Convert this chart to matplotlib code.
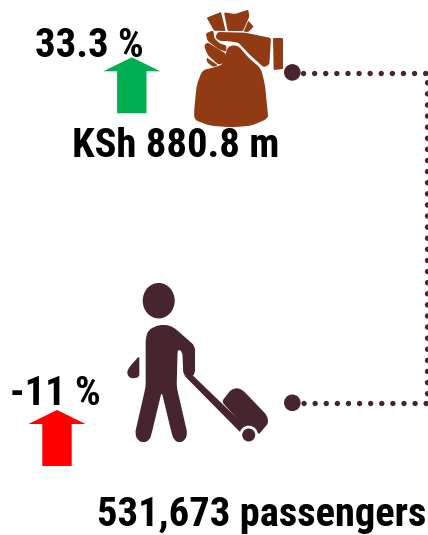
import numpy as np
import matplotlib.pyplot as plt
from matplotlib.patches import Polygon, Ellipse, Circle, PathPatch
from matplotlib.path import Path

# === Values shown on the graphic ===
change_labels = ["33.3 %", "-11 %"]
total_labels = ["KSh 880.8 m", "531,673 passengers"]
arrow_colors = ["#00B050", "#FF0000"]

BROWN = "#913B14"
DARK = "#46252F"

fig = plt.figure(figsize=(4.28, 5.35), dpi=100)
ax = fig.add_axes([0, 0, 1, 1])
ax.set_xlim(0, 428)
ax.set_ylim(535, 0)
ax.axis("off")


def blob(pts, ox, oy, color, r=1.5):
    # outlines were traced on 3x crops, corners get rounded by r pixels
    pts = np.array(pts, dtype=float) / 3 + [ox, oy]
    n = len(pts)
    verts, codes = [], []
    for i in range(n):
        p, prev, nxt = pts[i], pts[i - 1], pts[(i + 1) % n]
        d1, d2 = np.linalg.norm(prev - p), np.linalg.norm(nxt - p)
        a = p + (prev - p) / d1 * min(r, d1 / 2)
        b = p + (nxt - p) / d2 * min(r, d2 / 2)
        verts += [a, p, b]
        codes += [Path.MOVETO if i == 0 else Path.LINETO, Path.CURVE3, Path.CURVE3]
    verts.append(verts[0])
    codes.append(Path.CLOSEPOLY)
    ax.add_patch(PathPatch(Path(verts, codes), fc=color, ec="none"))


def up_arrow(cx, tip, wing_y, bottom, color):
    pts = [(cx, tip), (cx + 28.5, wing_y), (cx + 14.7, wing_y), (cx + 14.7, bottom),
           (cx - 14.7, bottom), (cx - 14.7, wing_y), (cx - 28.5, wing_y)]
    ax.add_patch(Polygon(pts, closed=True, fc=color, ec="none"))


# === Connector ===
ax.plot([303.3, 426.7, 426.7, 303.3], [72.6, 72.6, 402.8, 402.8], color=DARK, lw=3.9,
        linestyle=(0, (0.01, 2.04)), dash_capstyle="round", zorder=1)
ax.add_patch(Circle((292.3, 72.4), 8.3, fc=DARK, ec="none", zorder=2))
ax.add_patch(Circle((292.3, 402.8), 8.3, fc=DARK, ec="none", zorder=2))

# === Money bag ===
blob([(27, 320), (35, 240), (52, 195), (85, 188), (115, 178), (128, 123), (158, 120),
      (190, 158), (228, 190), (240, 240), (248, 320), (250, 340), (200, 362), (140, 367),
      (75, 362), (28, 345)], 185, 5, BROWN, 5)
blob([(65, 38), (108, 21), (122, 78), (87, 77)], 185, 5, BROWN, 1)
blob([(117, 22), (150, 27), (190, 14), (193, 35), (174, 78), (128, 78)], 185, 5, BROWN, 1.5)
blob([(190, 47), (206, 65), (190, 81), (176, 80)], 185, 5, BROWN, 1)
blob([(98, 81), (180, 83), (258, 99), (253, 179), (236, 187), (195, 150), (160, 113),
      (125, 108), (105, 108), (91, 98)], 185, 5, BROWN, 2)
blob([(62, 85), (85, 76), (88, 100), (105, 116), (124, 121), (124, 141), (100, 132),
      (68, 108)], 185, 5, BROWN, 2)
blob([(57, 122), (67, 112), (123, 146), (123, 172), (100, 179), (68, 150)], 185, 5, BROWN, 2)
blob([(64, 157), (99, 181), (85, 186), (67, 173)], 185, 5, BROWN, 1.5)
blob([(264, 99), (294, 99), (294, 192), (266, 195)], 185, 5, BROWN, 1)

# === Traveller ===
ax.add_patch(Ellipse((158.7, 300.7), 32, 35.5, fc=DARK, ec="none"))
blob([(437, 350), (437, 205), (445, 180), (475, 165), (505, 165), (525, 175), (585, 228),
      (585, 312), (572, 322), (550, 315), (547, 245), (533, 237), (530, 350), (562, 490),
      (556, 510), (538, 519), (522, 510), (515, 490), (485, 365), (455, 490), (449, 510),
      (430, 519), (412, 510), (405, 490)], 0, 270, DARK, 4)
blob([(418, 257), (385, 295), (380, 312), (392, 326), (418, 322)], 0, 270, DARK, 3)
blob([(552, 316), (578, 316), (738, 470), (724, 490)], 0, 270, DARK, 0.5)
blob([(665, 395), (692, 360), (712, 353), (730, 362), (800, 435), (806, 458), (775, 495),
      (760, 470), (730, 468), (715, 450)], 0, 270, DARK, 3)
ax.add_patch(Circle((248.7, 435), 9.3, fc="white", ec="none"))
ax.add_patch(Circle((248.7, 435), 6.5, fc=DARK, ec="none"))

# === Arrows and labels ===
up_arrow(131.8, 57.3, 71.3, 113.3, arrow_colors[0])
up_arrow(57, 410, 424, 466, arrow_colors[1])

font = dict(family=["Roboto Condensed", "Liberation Sans"], fontsize=29.2,
            fontweight="bold", color="black", va="baseline", ha="left")
ax.text(35.5, 57, change_labels[0], **font)
ax.text(72.5, 157, total_labels[0], **font)
ax.text(10.5, 405, change_labels[1], **font)
ax.text(97.5, 526, total_labels[1], **font)

fig.savefig("out.png", dpi=100)
